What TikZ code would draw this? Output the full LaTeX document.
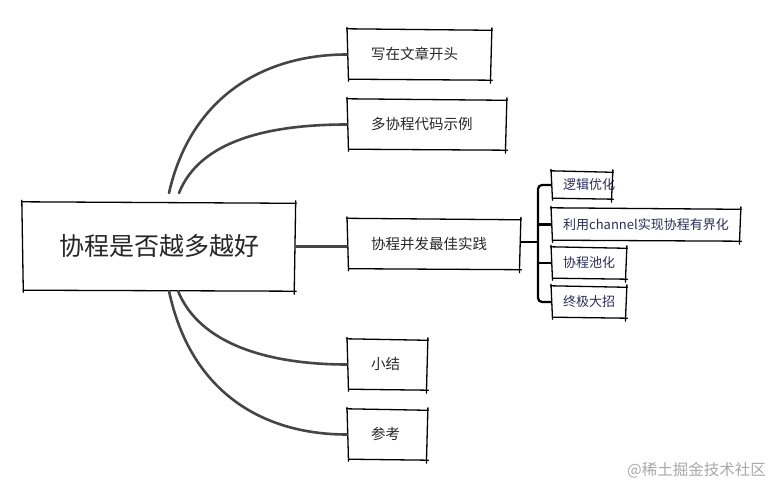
\documentclass[tikz,border=0pt]{standalone}
\usepackage{fontspec}
\setmainfont{Noto Sans CJK SC}
\definecolor{linegray}{HTML}{454545}
\definecolor{subtext}{HTML}{2B2B5E}
\definecolor{wmgray}{HTML}{A8A8A8}
\tikzset{
  conn/.style={draw=linegray, line width=2.6pt, line cap=round},
  busline/.style={draw=black, line width=2.2pt, rounded corners=4pt},
  edge/.style={draw=black, line width=1.3pt, line cap=round},
  rootbox/.style={inner sep=0pt, minimum width=274pt, minimum height=87pt, font=\fontsize{25}{28}\selectfont, text=black!85},
  childbox/.style={anchor=west, inner xsep=24pt, inner ysep=0pt, align=left, minimum height=49pt, font=\fontsize{14.5}{17}\selectfont, text=black!85},
  subbox/.style={anchor=west, inner xsep=12pt, inner ysep=0pt, align=left, minimum height=28pt, font=\fontsize{13}{15}\selectfont, text=subtext},
}
\begin{document}
\begin{tikzpicture}[x=1pt,y=-1pt]
\useasboundingbox (0,0) rectangle (771,486);
\node[rootbox] (root) at (159,246.5) {\raisebox{4pt}{协程是否越多越好}};
\node[childbox, text width=97pt] (c1) at (347,54.5) {\raisebox{1.5pt}{写在文章开头}};
\node[childbox, text width=112pt] (c2) at (347,124.5) {\raisebox{1.5pt}{多协程代码示例}};
\node[childbox, text width=126pt] (c3) at (347,244) {\raisebox{1.5pt}{协程并发最佳实践}};
\node[childbox, text width=33pt] (c4) at (347,364.5) {\raisebox{1.5pt}{小结}};
\node[childbox, text width=33pt] (c5) at (347,434.5) {\raisebox{1.5pt}{参考}};
\node[subbox, text width=38pt, minimum height=26pt] (s1) at (551,185) {逻辑优化};
\node[subbox, text width=166pt, minimum height=31pt] (s2) at (551,224.5) {利用channel实现协程有界化};
\node[subbox, text width=52pt, minimum height=30pt] (s3) at (551,263) {协程池化};
\node[subbox, text width=52pt, minimum height=30pt] (s4) at (551,302) {终极大招};
\coordinate (bus) at (538,242);
\coordinate (rt1) at (169,193);
\coordinate (rt2) at (179,193);
\coordinate (rb1) at (178,291);
\coordinate (rb2) at (169,291);
% sketchy borders
\foreach \n in {root,c1,c2,c3,c4,c5,s1,s2,s3,s4}{
  \draw[edge] ([xshift=-0.5pt,yshift=1pt]\n.north west) -- ([xshift=0pt,yshift=-0.5pt]\n.north east);
  \draw[edge] ([xshift=-0.5pt,yshift=2pt]\n.north east) -- ([xshift=-2pt,yshift=-4pt]\n.south east);
  \draw[edge] ([xshift=0pt,yshift=-1pt]\n.south east) -- ([xshift=1.5pt,yshift=0pt]\n.south west);
  \draw[edge] ([xshift=1.5pt,yshift=-2pt]\n.south west) -- ([xshift=0pt,yshift=2.5pt]\n.north west);
}
% connectors
\draw[conn] (rt1) .. controls (190,100) and (260,54.5) .. (c1.west);
\draw[conn] (rt2) .. controls (200,140) and (270,124.5) .. (c2.west);
\draw[conn] (root.east) -- (c3.west |- root.east);
\draw[conn] (rb1) .. controls (200,345) and (270,364.5) .. (c4.west);
\draw[conn] (rb2) .. controls (190,390) and (260,434.5) .. (c5.west);
\draw[busline] (c3.east |- bus) -- (bus);
\draw[busline] (s1.west) -| (bus) |- (s4.west);
\draw[busline] (bus |- s2.west) -- (s2.west);
\draw[busline] (bus |- s3.west) -- (s3.west);
\node[font=\fontsize{15.5}{18}\selectfont, text=wmgray, anchor=east, inner sep=0pt] (wm) at (766,470) {@稀土掘金技术社区};
\end{tikzpicture}
\end{document}
